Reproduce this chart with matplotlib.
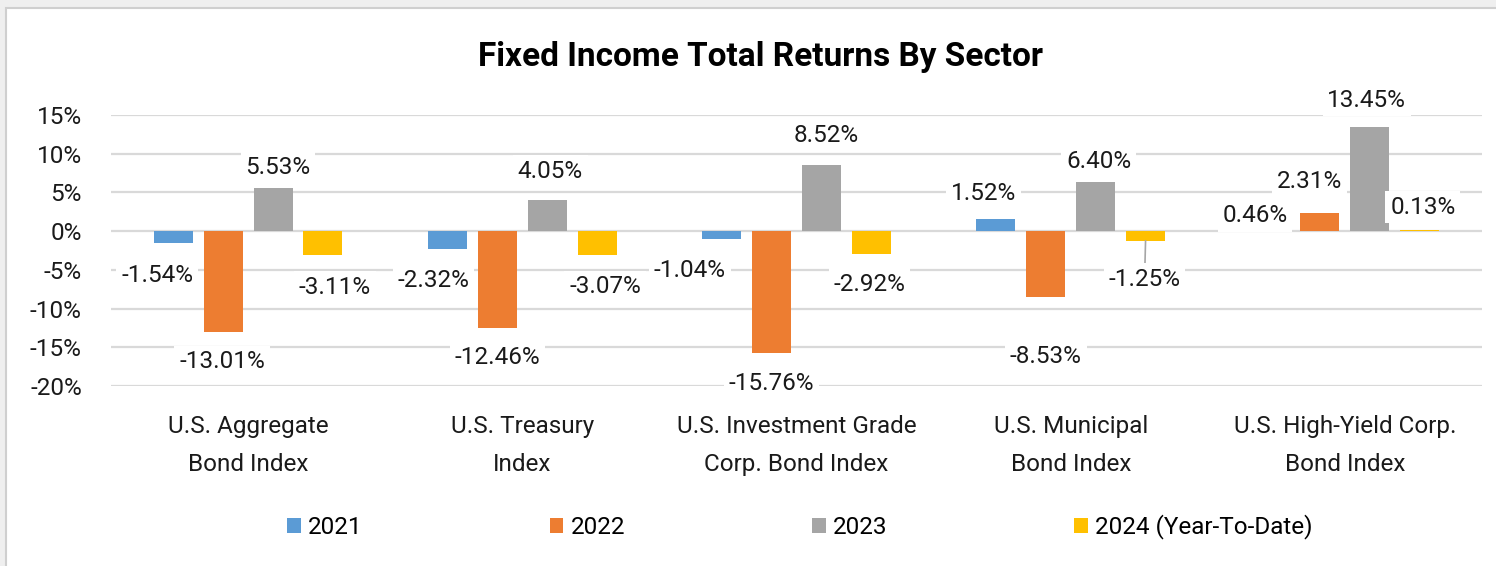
import matplotlib as mpl
mpl.use('Agg')
import matplotlib.pyplot as plt
import numpy as np
from matplotlib.patches import Rectangle

plt.rcParams['font.family'] = ['Roboto', 'DejaVu Sans']

# data
categories = ["U.S. Aggregate\nBond Index", "U.S. Treasury\nIndex",
              "U.S. Investment Grade\nCorp. Bond Index", "U.S. Municipal\nBond Index",
              "U.S. High-Yield Corp.\nBond Index"]
years = ["2021", "2022", "2023", "2024 (Year-To-Date)"]
r2021 = [-1.54, -2.32, -1.04, 1.52, 0.46]
r2022 = [-13.01, -12.46, -15.76, -8.53, 2.31]
r2023 = [5.53, 4.05, 8.52, 6.40, 13.45]
r2024 = [-3.11, -3.07, -2.92, -1.25, 0.13]
series = [r2021, r2022, r2023, r2024]
colors = ["#5B9BD5", "#ED7D31", "#A5A5A5", "#FFC000"]

# label offsets in pixels from the bar end (dx, distance away from bar)
label_dx = [[-16, -14, -32, -12, -15],
            [-1, 0, 0, 0, -10],
            [5, 3, 5, 3, -3],
            [12, 8, -2, -1, 3]]
label_dy = [[32, 31, 31, 26, 12],
            [30, 30, 30, 59, 32],
            [21, 28, 30, 20, 27],
            [32, 32, 31, 39, 23]]

fig = plt.figure(figsize=(14.96, 5.66), dpi=100, facecolor="#efefef")
fig.patches.append(Rectangle((6/1496, -0.1), 1.1, 1 - 8/566 + 0.1, transform=fig.transFigure,
                             facecolor="white", edgecolor="#cfcfcf", lw=1.5, zorder=-5))

ax = fig.add_axes([111/1496, 1 - 386/566, (1482-111)/1496, (386-115)/566])
ax.set_facecolor("none")

x = np.arange(len(categories))
w = 0.142
step = 0.182
fs = 17.5

for i, (vals, c) in enumerate(zip(series, colors)):
    xs = x + (i - 1.5) * step
    ax.bar(xs, vals, width=w, color=c, label=years[i], zorder=2)
    for j, v in enumerate(vals):
        sgn = 1 if v >= 0 else -1
        arrow = None
        if i == 3 and j == 3:
            arrow = dict(arrowstyle='-', color="#a6a6a6", lw=1.2, shrinkA=0, shrinkB=0)
        ax.annotate("%.2f%%" % v, xy=(xs[j], v), xytext=(label_dx[i][j], sgn * label_dy[i][j]),
                    textcoords='offset pixels', ha='center', va='center', fontsize=fs,
                    color="#1a1a1a", zorder=3, arrowprops=arrow,
                    bbox=dict(boxstyle="square,pad=0.2", fc="white", ec="none"))

ax.set_xlim(-0.5, len(categories) - 0.5)
ax.set_ylim(-20, 15)
ax.set_yticks(np.arange(-20, 16, 5))
ax.set_yticklabels(["%d%%" % t for t in np.arange(-20, 16, 5)])
ax.yaxis.grid(True, color="#d9d9d9", lw=1.6, zorder=0)
ax.set_axisbelow(True)
ax.set_xticks(x)
ax.set_xticklabels(categories, linespacing=1.85)
ax.tick_params(axis='both', length=0, labelsize=fs, colors="#1a1a1a")
ax.tick_params(axis='y', pad=21)
ax.tick_params(axis='x', pad=21)
for s in ax.spines.values():
    s.set_visible(False)

fig.text(760/1496, 1 - 57/566, "Fixed Income Total Returns By Sector", ha='center', va='center',
         fontsize=24, fontweight='bold', color="#000000")

fig.legend(loc='center', bbox_to_anchor=(800/1496, 1 - 527/566), ncol=4, frameon=False,
           fontsize=fs, handlelength=0.55, handleheight=0.55, handletextpad=0.3,
           columnspacing=7.7)

fig.savefig("out.png", dpi=100, facecolor=fig.get_facecolor())
